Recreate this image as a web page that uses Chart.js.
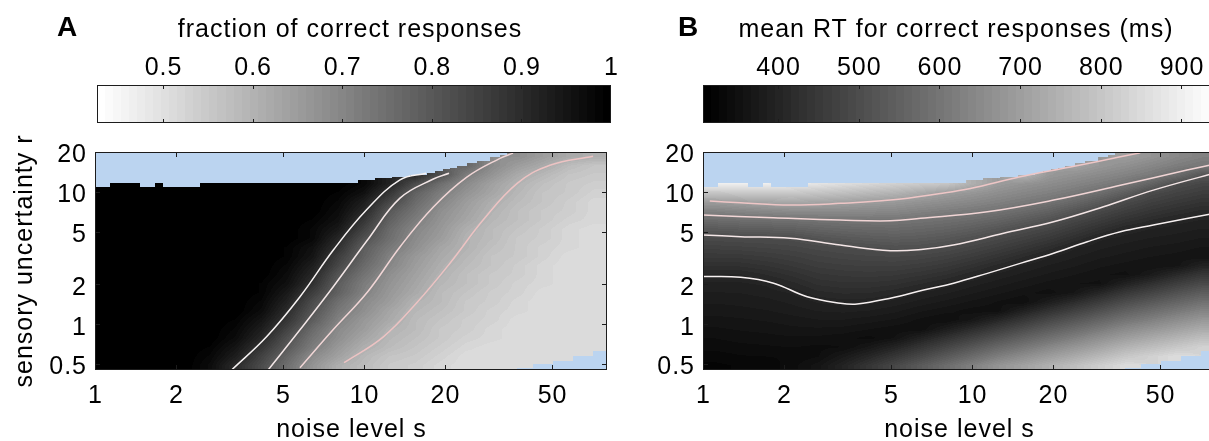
<!DOCTYPE html>
<html>
<head>
<meta charset="utf-8">
<title>Accuracy and reaction time maps</title>
<script src="https://cdn.jsdelivr.net/npm/chart.js@4.4.0/dist/chart.umd.min.js"></script>
<style>
  html, body { margin: 0; padding: 0; background: #fff; width: 1209px; height: 441px; overflow: hidden; }
  canvas { position: absolute; left: 0; top: 0; }
</style>
</head>
<body>
<canvas id="barA" width="1220" height="441"></canvas>
<canvas id="barB" width="1220" height="441"></canvas>
<canvas id="mapA" width="1220" height="441"></canvas>
<canvas id="mapB" width="1220" height="441"></canvas>
<script>
// ---------------- axes ----------------
const sRange = [1, 80];
const rRange = [0.45, 20];
const sTicks = [1, 2, 5, 10, 20, 50];
const sTickLabels = ['1', '2', '5', '10', '20', '50'];
const rTicks = [0.5, 1, 2, 5, 10, 20];
const rTickLabels = ['0.5', '1', '2', '5', '10', '20'];

// colour-bar ranges and ticks
const accRange = [0.4263, 1];
const accBarTicks = [0.5, 0.6, 0.7, 0.8, 0.9, 1];
const accBarLabels = ['0.5', '0.6', '0.7', '0.8', '0.9', '1'];
const rtRange = [307, 944];
const rtBarTicks = [400, 500, 600, 700, 800, 900];
const rtBarLabels = ['400', '500', '600', '700', '800', '900'];

// ---------------- simulation grid ----------------
// noise level s (cell centres, left to right)
const sGrid = [1.116, 1.389, 1.729, 2.153, 2.680, 3.336, 4.153, 5.171, 6.437, 8.013,
               9.980, 12.43, 15.47, 19.26, 23.97, 29.84, 37.16, 46.27, 57.59, 71.70];
// sensory uncertainty r (cell centres, top to bottom)
const rGrid = [18.48, 15.78, 13.47, 11.50, 9.819, 8.383, 7.157, 6.111, 5.217, 4.454, 3.803, 3.247,
               2.772, 2.367, 2.020, 1.725, 1.473, 1.257, 1.073, 0.9166, 0.7826, 0.6681, 0.5704, 0.4870];

// fraction of correct responses (rows follow rGrid, columns follow sGrid; null = not simulated)
const accuracy = [
  [null,null,null,null,null,null,null,null,null,null,null,null,null,null,null,null,0.68,0.65,0.62,0.61],
  [null,null,null,null,null,null,null,null,null,null,null,null,null,null,0.77,0.69,0.65,0.62,0.58,0.56],
  [null,null,null,null,null,null,null,null,null,null,null,null,0.91,0.82,0.72,0.67,0.62,0.59,0.56,0.55],
  [1.00,1.00,1.00,1.00,1.00,1.00,1.00,1.00,1.00,1.00,0.98,0.92,0.83,0.75,0.69,0.64,0.60,0.57,0.55,0.54],
  [1.00,1.00,1.00,1.00,1.00,1.00,1.00,1.00,1.00,0.99,0.96,0.88,0.78,0.72,0.67,0.63,0.59,0.56,0.55,0.53],
  [1.00,1.00,1.00,1.00,1.00,1.00,1.00,1.00,1.00,0.98,0.93,0.84,0.76,0.70,0.65,0.61,0.58,0.56,0.54,0.52],
  [1.00,1.00,1.00,1.00,1.00,1.00,1.00,1.00,1.00,0.97,0.91,0.80,0.74,0.68,0.64,0.60,0.57,0.55,0.54,0.52],
  [1.00,1.00,1.00,1.00,1.00,1.00,1.00,1.00,0.99,0.96,0.88,0.78,0.72,0.67,0.63,0.59,0.57,0.55,0.53,0.52],
  [1.00,1.00,1.00,1.00,1.00,1.00,1.00,1.00,0.98,0.94,0.85,0.76,0.70,0.66,0.61,0.58,0.56,0.54,0.52,0.51],
  [1.00,1.00,1.00,1.00,1.00,1.00,1.00,1.00,0.98,0.91,0.82,0.75,0.69,0.65,0.60,0.58,0.55,0.54,0.52,0.51],
  [1.00,1.00,1.00,1.00,1.00,1.00,1.00,0.99,0.96,0.89,0.79,0.73,0.68,0.63,0.60,0.57,0.55,0.53,0.52,0.51],
  [1.00,1.00,1.00,1.00,1.00,1.00,1.00,0.99,0.95,0.86,0.78,0.71,0.66,0.62,0.59,0.56,0.55,0.53,0.51,0.51],
  [1.00,1.00,1.00,1.00,1.00,1.00,1.00,0.98,0.93,0.84,0.76,0.70,0.65,0.61,0.58,0.56,0.54,0.52,0.51,0.51],
  [1.00,1.00,1.00,1.00,1.00,1.00,1.00,0.97,0.91,0.81,0.74,0.68,0.64,0.60,0.57,0.55,0.54,0.52,0.51,0.51],
  [1.00,1.00,1.00,1.00,1.00,1.00,0.99,0.96,0.89,0.79,0.72,0.67,0.63,0.59,0.57,0.55,0.53,0.52,0.51,0.51],
  [1.00,1.00,1.00,1.00,1.00,1.00,0.99,0.94,0.86,0.78,0.71,0.66,0.62,0.58,0.56,0.54,0.53,0.51,0.51,0.51],
  [1.00,1.00,1.00,1.00,1.00,1.00,0.98,0.92,0.83,0.75,0.69,0.65,0.60,0.58,0.55,0.54,0.52,0.51,0.51,0.51],
  [1.00,1.00,1.00,1.00,1.00,1.00,0.97,0.90,0.81,0.73,0.68,0.63,0.59,0.57,0.55,0.53,0.52,0.51,0.51,0.51],
  [1.00,1.00,1.00,1.00,1.00,0.99,0.95,0.88,0.79,0.71,0.66,0.62,0.58,0.56,0.54,0.53,0.51,0.51,0.51,0.51],
  [1.00,1.00,1.00,1.00,1.00,0.98,0.93,0.85,0.76,0.69,0.65,0.60,0.58,0.55,0.54,0.52,0.51,0.51,0.51,0.51],
  [1.00,1.00,1.00,1.00,1.00,0.97,0.91,0.82,0.74,0.68,0.63,0.59,0.57,0.55,0.53,0.52,0.51,0.51,0.51,0.51],
  [1.00,1.00,1.00,1.00,0.99,0.95,0.88,0.80,0.72,0.66,0.61,0.58,0.56,0.54,0.52,0.51,0.51,0.51,0.51,0.51],
  [1.00,1.00,1.00,1.00,0.98,0.93,0.85,0.77,0.69,0.64,0.59,0.56,0.55,0.53,0.51,0.51,0.51,0.51,0.51,null],
  [1.00,1.00,1.00,1.00,0.97,0.90,0.83,0.75,0.67,0.61,0.58,0.55,0.54,0.52,0.51,0.51,0.51,null,null,null]
];

// mean RT for correct responses in ms (same layout)
const meanRT = [
  [null,null,null,null,null,null,null,null,null,null,null,null,null,null,null,null,697,675,647,628],
  [null,null,null,null,null,null,null,null,null,null,null,null,null,null,710,684,665,643,620,603],
  [null,null,null,null,null,null,null,null,null,null,null,null,760,688,670,652,633,612,580,522],
  [900,900,895,885,870,855,840,825,810,800,744,694,674,657,639,620,600,556,500,483],
  [798,805,808,806,795,783,768,753,728,698,681,661,643,627,608,582,542,494,475,460],
  [696,707,719,726,718,709,697,688,673,659,645,629,612,595,567,532,492,468,451,436],
  [631,640,647,654,654,653,649,644,632,620,609,595,576,554,521,489,463,442,426,413],
  [577,583,587,591,596,600,602,601,594,586,575,559,537,513,484,459,434,416,402,396],
  [532,538,541,546,557,564,568,571,565,556,542,522,499,480,455,429,405,396,391,386],
  [493,496,498,501,517,528,536,541,536,526,509,490,472,452,426,400,392,386,382,376],
  [471,474,478,483,491,497,503,510,507,497,482,465,445,423,399,389,382,376,372,366],
  [449,451,457,465,475,481,485,487,483,473,458,439,418,398,388,379,373,367,363,357],
  [427,429,437,448,460,465,468,468,461,450,433,413,396,386,378,369,363,357,362,396],
  [405,406,417,430,444,449,451,448,439,427,409,394,384,375,367,359,353,378,413,444],
  [394,395,399,413,429,434,434,429,417,403,391,381,372,363,357,355,395,428,462,492],
  [386,387,391,398,413,418,417,409,397,388,378,369,360,352,367,406,447,478,511,540],
  [378,380,383,389,398,402,400,393,383,374,365,356,348,383,418,457,497,528,559,588],
  [371,373,376,381,387,389,386,379,368,360,352,351,393,433,470,508,548,578,608,636],
  [363,365,368,372,376,376,371,365,354,346,368,405,445,486,522,560,598,627,656,684],
  [355,358,360,364,365,363,357,351,348,383,419,458,498,538,573,612,650,677,705,732],
  [347,351,353,355,354,350,343,358,395,432,471,512,551,589,626,663,700,728,755,781],
  [340,343,345,347,344,347,370,401,440,481,523,566,604,642,678,714,752,778,804,829],
  [332,336,337,338,346,374,406,444,487,530,574,620,657,694,729,765,802,827,853,null],
  [324,329,330,343,362,399,442,486,533,579,626,673,708,745,781,817,852,null,null,null]
];

// region of the (s, r) plane that was not simulated
const maskTopEdges = [1, 1.136, 1.47, 1.67, 1.79, 2.45, 9.5, 11.0, 12.7, 14.8, 17.1, 18.4, 19.7,
                      20.9, 22.2, 24.1, 26.4, 29.4, 32.1, 34.0, 35.8];
const maskTopR = [10.9, 11.6, 10.9, 11.6, 10.9, 11.6, 12.25, 12.7, 13.0, 13.4, 13.8, 14.3, 14.8,
                  15.2, 15.6, 16.4, 17.2, 18.2, 18.9, 19.5];
const maskBottomEdges = [36.9, 42.6, 50.5, 60, 70.8, 80];
const maskBottomR = [0.47, 0.50, 0.53, 0.575, 0.63];

// iso-accuracy contours (0.9, 0.8, 0.7, 0.6) as [s, r]
const acc90 = [[3.22,0.45],[4.35,0.806],[5.78,1.61],[7.69,3.63],[10.2,7.28],[13.6,12.3],[17.0,13.8]];
const acc80 = [[4.40,0.45],[5.78,0.906],[7.67,1.91],[10.3,4.32],[13.6,8.96],[18.1,12.5],[20.7,13.8]];
const acc70 = [[5.78,0.468],[7.67,0.906],[10.3,1.75],[13.6,3.83],[18.1,7.67],[24.1,12.9],[32.0,17.9],[35.8,19.6]];
const acc60 = [[8.43,0.511],[11.8,0.802],[15.7,1.45],[20.9,2.90],[27.7,6.12],[37.1,11.6],[49.1,15.9],[71.0,18.6]];

// iso-RT contours (700, 600, 500, 400 ms) as [s, r]
const rt700 = [[1.06,8.51],[1.38,8.26],[2.11,7.94],[3.24,8.18],[4.97,8.66],[7.62,9.72],[9.86,10.6],
               [15.1,13.0],[23.2,15.4],[35.6,18.4],[42.2,19.7]];
const rt600 = [[1.0,6.67],[1.83,6.37],[3.24,6.12],[4.97,6.04],[6.43,6.30],[11.4,7.07],[20.1,8.66],
               [35.6,11.2],[63.0,14.6],[80,16.2]];
const rt500 = [[1.0,4.72],[1.38,4.58],[2.11,4.45],[3.24,3.96],[4.97,3.59],[6.59,3.68],[8.52,3.96],
               [13.1,4.86],[20.1,5.94],[30.8,7.71],[47.2,10.3],[80,13.9]];
const rt400 = [[1.0,2.29],[1.38,2.26],[1.83,2.04],[2.44,1.61],[3.24,1.44],[3.74,1.42],[4.97,1.57],
               [6.61,1.81],[8.54,2.04],[11.4,2.42],[15.1,2.88],[20.1,3.43],[26.8,4.20],[35.6,4.99],
               [47.2,5.61],[80,6.9]];

// ---------------- styling ----------------
const CW = 1220, CH = 441;
const FAMILY = "'Liberation Sans', Arial, Helvetica, sans-serif";
const TEXT_SIZE = 25;
const TRACKING = '1px';
const LEVELS = 64;
const FRAME = '#1c1c1c';
const MISSING = 'rgb(187,212,240)';
const accLineColors = ['#f7f3f3', '#f3e7e7', '#f1d6d6', '#edc3c3'];
const rtLineColors = ['#eec6c6', '#f1d5d5', '#f4e6e6', '#f7f1f1'];

Chart.defaults.font.family = FAMILY;
Chart.defaults.font.size = TEXT_SIZE;
Chart.defaults.color = '#000';

// the figure's lettering is set slightly spaced
Chart.register({
  id: 'tracking',
  beforeDraw(chart) { chart.ctx.letterSpacing = TRACKING; }
});

function grayOf(t, reversed) {
  t = Math.min(1, Math.max(0, t));
  const k = Math.min(LEVELS - 1, Math.floor(t * LEVELS));
  const g = Math.round(255 * k / (LEVELS - 1));
  return reversed ? 255 - g : g;
}

function drawText(ctx, str, x, y, font, rotate, spacing) {
  ctx.save();
  ctx.font = font;
  ctx.fillStyle = '#000';
  ctx.textAlign = 'center';
  ctx.textBaseline = 'alphabetic';
  ctx.letterSpacing = spacing;
  ctx.translate(x, y);
  if (rotate) ctx.rotate(rotate);
  ctx.fillText(str, 0, 0);
  ctx.restore();
}

const logS = sGrid.map(Math.log10);
const logR = rGrid.map(Math.log10);

function fracIndex(L, lv) {
  const n = L.length, asc = L[n - 1] > L[0];
  if (asc ? lv <= L[0] : lv >= L[0]) return 0;
  if (asc ? lv >= L[n - 1] : lv <= L[n - 1]) return n - 1;
  for (let i = 0; i < n - 1; i++) {
    const a = L[i], b = L[i + 1];
    if ((lv - a) * (lv - b) <= 0) return i + (lv - a) / (b - a);
  }
  return n - 1;
}

function sampleGrid(grid, fx, fy) {
  const nx = grid[0].length, ny = grid.length;
  const i0 = Math.floor(fx), j0 = Math.floor(fy);
  const i1 = Math.min(i0 + 1, nx - 1), j1 = Math.min(j0 + 1, ny - 1);
  const tx = fx - i0, ty = fy - j0;
  let sw = 0, sv = 0;
  const add = (j, i, w) => {
    const v = grid[j][i];
    if (v !== null) { w += 1e-6; sw += w; sv += w * v; }
  };
  add(j0, i0, (1 - tx) * (1 - ty));
  add(j0, i1, tx * (1 - ty));
  add(j1, i0, (1 - tx) * ty);
  add(j1, i1, tx * ty);
  return sw > 0 ? sv / sw : null;
}

// shaded field + missing-data region, painted under the contour lines
function fieldPlugin(grid, range, reversed) {
  return {
    id: 'field',
    beforeDatasetsDraw(chart) {
      const { ctx, chartArea: a, scales: { x, y } } = chart;
      const L = Math.round(a.left), T = Math.round(a.top);
      const W = Math.round(a.right) - L, H = Math.round(a.bottom) - T;
      const img = ctx.createImageData(W, H);
      const fxs = new Float64Array(W), fys = new Float64Array(H);
      for (let px = 0; px < W; px++) fxs[px] = fracIndex(logS, Math.log10(x.getValueForPixel(L + px + 0.5)));
      for (let py = 0; py < H; py++) fys[py] = fracIndex(logR, Math.log10(y.getValueForPixel(T + py + 0.5)));
      const span = range[1] - range[0];
      for (let py = 0; py < H; py++) {
        for (let px = 0; px < W; px++) {
          const v = sampleGrid(grid, fxs[px], fys[py]);
          if (v === null) continue;
          const g = grayOf((v - range[0]) / span, reversed);
          const k = (py * W + px) * 4;
          img.data[k] = g; img.data[k + 1] = g; img.data[k + 2] = g; img.data[k + 3] = 255;
        }
      }
      ctx.putImageData(img, L, T);

      ctx.save();
      ctx.fillStyle = MISSING;
      for (let i = 0; i < maskTopR.length; i++) {
        const x0 = Math.round(x.getPixelForValue(maskTopEdges[i]));
        const x1 = Math.round(x.getPixelForValue(maskTopEdges[i + 1]));
        const yb = Math.round(y.getPixelForValue(maskTopR[i]));
        ctx.fillRect(x0, T, x1 - x0, yb - T);
      }
      for (let i = 0; i < maskBottomR.length; i++) {
        const x0 = Math.round(x.getPixelForValue(maskBottomEdges[i]));
        const x1 = Math.round(x.getPixelForValue(maskBottomEdges[i + 1]));
        const yt = Math.round(y.getPixelForValue(maskBottomR[i]));
        ctx.fillRect(x0, yt, x1 - x0, T + H - yt);
      }
      ctx.restore();
    }
  };
}

// axes box with inward tick marks
const framePlugin = {
  id: 'frame',
  afterDraw(chart) {
    const { ctx, chartArea: a, scales: { x, y } } = chart;
    const L = Math.round(a.left), T = Math.round(a.top), R = Math.round(a.right), B = Math.round(a.bottom);
    ctx.save();
    ctx.strokeStyle = FRAME;
    ctx.lineWidth = 1;
    ctx.beginPath();
    sTicks.forEach(v => {
      const p = Math.round(x.getPixelForValue(v)) + 0.5;
      if (p < L + 2 || p > R - 2) return;
      ctx.moveTo(p, B); ctx.lineTo(p, B - 5);
      ctx.moveTo(p, T); ctx.lineTo(p, T + 5);
    });
    rTicks.forEach(v => {
      const p = Math.round(y.getPixelForValue(v)) + 0.5;
      if (p < T + 2 || p > B - 2) return;
      ctx.moveTo(L, p); ctx.lineTo(L + 5, p);
      ctx.moveTo(R, p); ctx.lineTo(R - 5, p);
    });
    ctx.stroke();
    ctx.strokeRect(L + 0.5, T + 0.5, R - L - 1, B - T - 1);
    ctx.restore();
  }
};

function makeBar(id, range, ticks, labels, reversed, area, letter, letterX, title, titleX) {
  return new Chart(document.getElementById(id), {
    type: 'scatter',
    data: { datasets: [] },
    options: {
      responsive: false, animation: false, devicePixelRatio: 1, events: [],
      layout: { autoPadding: false, padding: { left: area.left, right: CW - area.right, top: 0, bottom: CH - area.bottom } },
      plugins: { legend: { display: false }, tooltip: { enabled: false } },
      scales: {
        x: {
          type: 'linear', position: 'top', min: range[0], max: range[1],
          grid: { display: false, drawTicks: false }, border: { display: false },
          afterFit: s => { s.height = area.top; },
          afterBuildTicks: s => { s.ticks = ticks.map(v => ({ value: v })); },
          ticks: { autoSkip: false, maxRotation: 0, minRotation: 0, padding: 2, labelOffset: 0.5,
                   callback: (v, i) => labels[i] }
        },
        y: { display: false, min: 0, max: 1 }
      }
    },
    plugins: [{
      id: 'colorbar',
      afterDraw(chart) {
        const { ctx, chartArea: a, scales: { x } } = chart;
        const L = Math.round(a.left), T = Math.round(a.top), R = Math.round(a.right), B = Math.round(a.bottom);
        ctx.save();
        for (let k = 0; k < LEVELS; k++) {
          const v0 = range[0] + (range[1] - range[0]) * k / LEVELS;
          const v1 = range[0] + (range[1] - range[0]) * (k + 1) / LEVELS;
          const p0 = Math.round(x.getPixelForValue(v0)), p1 = Math.round(x.getPixelForValue(v1));
          const g = grayOf((k + 0.5) / LEVELS, reversed);
          ctx.fillStyle = `rgb(${g},${g},${g})`;
          ctx.fillRect(p0, T, p1 - p0, B - T);
        }
        ctx.strokeStyle = FRAME;
        ctx.lineWidth = 1;
        ctx.beginPath();
        ticks.forEach(v => {
          const p = Math.round(x.getPixelForValue(v)) + 0.5;
          if (p < L + 2 || p > R - 2) return;
          ctx.moveTo(p, T); ctx.lineTo(p, T + 4);
          ctx.moveTo(p, B); ctx.lineTo(p, B - 4);
        });
        ctx.stroke();
        ctx.strokeRect(L + 0.5, T + 0.5, R - L - 1, B - T - 1);
        ctx.restore();
        drawText(ctx, letter, letterX, 35.5, `bold 28px ${FAMILY}`, 0, '0px');
        drawText(ctx, title, titleX, 37, `${TEXT_SIZE}px ${FAMILY}`, 0, TRACKING);
      }
    }]
  });
}

function makeMap(id, grid, range, reversed, area, yAxisWidth, lines, colors, withYTitle) {
  return new Chart(document.getElementById(id), {
    type: 'scatter',
    data: {
      datasets: lines.map((pts, k) => ({
        data: pts.map(p => ({ x: p[0], y: p[1] })),
        showLine: true, fill: false,
        borderColor: colors[k], borderWidth: 1.5,
        pointRadius: 0, pointHoverRadius: 0,
        tension: 0.4
      }))
    },
    options: {
      responsive: false, animation: false, devicePixelRatio: 1, events: [],
      layout: { autoPadding: false, padding: { left: area.left - yAxisWidth, right: CW - area.right, top: area.top, bottom: 0 } },
      plugins: { legend: { display: false }, tooltip: { enabled: false } },
      scales: {
        x: {
          type: 'logarithmic', position: 'bottom', min: sRange[0], max: sRange[1],
          grid: { display: false, drawTicks: false }, border: { display: false },
          afterFit: s => { s.height = CH - area.bottom; },
          afterBuildTicks: s => { s.ticks = sTicks.map(v => ({ value: v })); },
          ticks: { autoSkip: false, maxRotation: 0, minRotation: 0, padding: 11, labelOffset: 0.5,
                   callback: (v, i) => sTickLabels[i] }
        },
        y: {
          type: 'logarithmic', position: 'left', min: rRange[0], max: rRange[1],
          grid: { display: false, drawTicks: false }, border: { display: false },
          afterFit: s => { s.width = yAxisWidth; },
          afterBuildTicks: s => { s.ticks = rTicks.map(v => ({ value: v })); },
          ticks: { autoSkip: false, padding: 8, labelOffset: 3.5, callback: (v, i) => rTickLabels[i] }
        }
      }
    },
    plugins: [fieldPlugin(grid, range, reversed), framePlugin, {
      id: 'axisTitles',
      afterDraw(chart) {
        const { ctx, chartArea: a } = chart;
        drawText(ctx, 'noise level s', (a.left + a.right) / 2 + 0.5, 436.5, `${TEXT_SIZE}px ${FAMILY}`, 0, TRACKING);
        if (withYTitle) {
          drawText(ctx, 'sensory uncertainty r', 32, (a.top + a.bottom) / 2, `${TEXT_SIZE}px ${FAMILY}`, -Math.PI / 2, TRACKING);
        }
      }
    }]
  });
}

makeBar('barA', accRange, accBarTicks, accBarLabels, true,
        { left: 97, right: 611, top: 85, bottom: 123 }, 'A', 67, 'fraction of correct responses', 350);
makeBar('barB', rtRange, rtBarTicks, rtBarLabels, false,
        { left: 703, right: 1217, top: 85, bottom: 123 }, 'B', 688, 'mean RT for correct responses (ms)', 956);
makeMap('mapA', accuracy, accRange, true, { left: 95, right: 607, top: 152, bottom: 370 }, 95,
        [acc90, acc80, acc70, acc60], accLineColors, true);
makeMap('mapB', meanRT, rtRange, false, { left: 703, right: 1215, top: 152, bottom: 370 }, 60,
        [rt700, rt600, rt500, rt400], rtLineColors, false);
</script>
</body>
</html>
